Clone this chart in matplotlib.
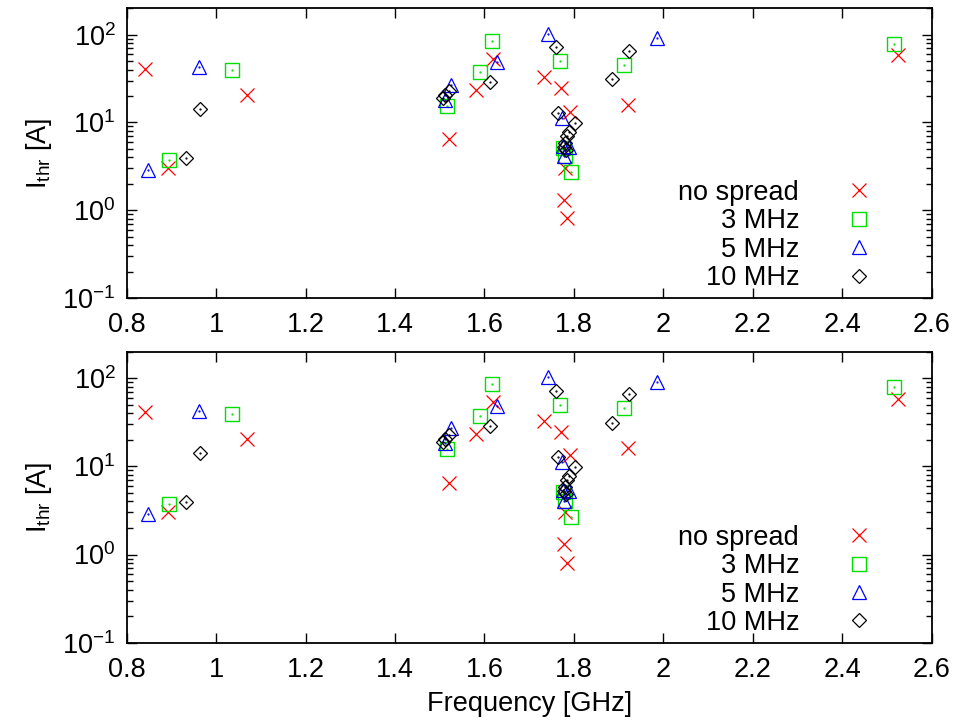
import matplotlib
matplotlib.use("Agg")
import matplotlib.pyplot as plt
from matplotlib.ticker import LogLocator, MultipleLocator, NullFormatter

plt.rcParams["font.family"] = ["Liberation Sans", "DejaVu Sans"]
plt.rcParams["mathtext.fontset"] = "custom"
plt.rcParams["mathtext.rm"] = "Liberation Sans"
plt.rcParams["mathtext.it"] = "Liberation Sans:italic"
plt.rcParams["axes.unicode_minus"] = False

# ---- data (frequency in GHz, threshold current in A) ----
nospread_f = [0.841, 0.893, 1.068, 1.521, 1.580, 1.620, 1.734, 1.771, 1.792, 1.781, 1.778, 1.784, 1.920, 2.525]
nospread_I = [41, 3.05, 20.3, 6.4, 23.3, 53.4, 33, 24.8, 13.3, 3.0, 1.31, 0.81, 16.0, 58.2]

mhz3_f = [0.895, 1.035, 1.516, 1.590, 1.617, 1.769, 1.775, 1.779, 1.794, 1.913, 2.516]
mhz3_I = [3.7, 39.3, 15.6, 37.3, 85.5, 49.8, 5.1, 4.1, 2.7, 45.6, 79]

mhz5_f = [0.848, 0.962, 1.512, 1.525, 1.627, 1.743, 1.773, 1.775, 1.790, 1.778, 1.985]
mhz5_I = [2.85, 42.5, 18.2, 27, 48.5, 102, 11.3, 5.4, 5.3, 4.1, 91.7]

mhz10_f = [0.933, 0.964, 1.508, 1.511, 1.521, 1.612, 1.761, 1.765, 1.803, 1.790,
           1.785, 1.781, 1.777, 1.783, 1.885, 1.923]
mhz10_I = [3.97, 14.3, 19, 20.5, 22.7, 29, 72.5, 12.9, 9.9, 7.8,
           7.0, 5.9, 5.2, 4.9, 31.3, 65.8]

series = [
    ("no spread", nospread_f, nospread_I, "#ff0000", dict(marker="x", color="#ff0000", ms=10, mew=0.9)),
    ("3 MHz", mhz3_f, mhz3_I, "#00e000", dict(marker="s", mfc="none", mec="#00e000", ms=9.5, mew=1.0)),
    ("5 MHz", mhz5_f, mhz5_I, "#0000ff", dict(marker="^", mfc="none", mec="#0000ff", ms=10, mew=0.9)),
    ("10 MHz", mhz10_f, mhz10_I, "#000000", dict(marker="D", mfc="none", mec="#000000", ms=7.5, mew=0.9)),
]

FS = 19.5
fig = plt.figure(figsize=(9.68, 7.21), dpi=100)
ax_top = fig.add_axes([0.1309, 0.5867, 0.8316, 0.4018])
ax_bot = fig.add_axes([0.1309, 0.1086, 0.8316, 0.4036])

for ax in (ax_top, ax_bot):
    for name, f, I, c, st in series:
        ax.plot(f, I, ls="none", label=name, **st)
        # gnuplot leaves a tiny dot in the centre of open symbols
        if name != "no spread":
            ax.plot(f, I, ls="none", marker=".", ms=1.2, color=c)
    ax.set_yscale("log")
    ax.set_xlim(0.8, 2.6)
    ax.set_ylim(0.1, 200)
    ax.xaxis.set_major_locator(MultipleLocator(0.2))
    ax.xaxis.set_major_formatter(plt.FuncFormatter(lambda v, p: f"{v:g}"))
    ax.yaxis.set_major_locator(LogLocator(base=10, numticks=10))
    ax.yaxis.set_minor_locator(LogLocator(base=10, subs=range(2, 10), numticks=10))
    ax.yaxis.set_minor_formatter(NullFormatter())
    ax.tick_params(which="both", direction="in", top=True, right=True, labelsize=FS, width=1.0)
    ax.tick_params(which="major", length=7, pad=10)
    ax.tick_params(axis="y", which="major", pad=8)
    ax.tick_params(which="minor", length=4)
    for s in ax.spines.values():
        s.set_linewidth(1.3)
    ax.set_ylabel(r"I$_{\mathrm{thr}}$ [A]", fontsize=FS, labelpad=6)
    ax.legend(loc="lower right", bbox_to_anchor=(0.943, -0.014), frameon=False,
              markerfirst=False, fontsize=FS, labelspacing=0.09, handletextpad=1.6,
              handlelength=1.2, borderaxespad=0.0, alignment="right")

ax_bot.set_xlabel("Frequency [GHz]", fontsize=FS, labelpad=6)

fig.savefig("out.png", dpi=100)
